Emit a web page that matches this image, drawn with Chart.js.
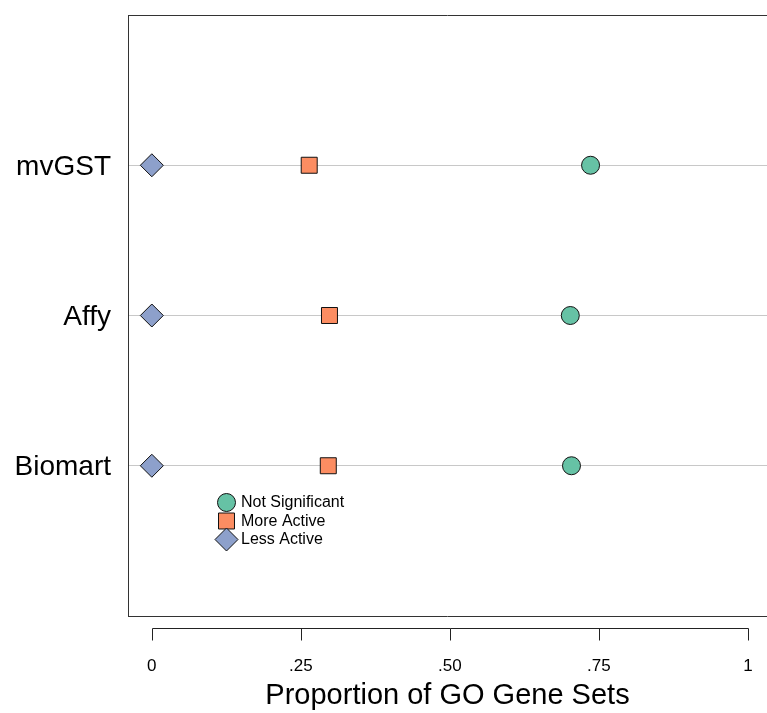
<!DOCTYPE html>
<html><head><meta charset="utf-8">
<script src="https://cdn.jsdelivr.net/npm/chart.js@4/dist/chart.umd.min.js"></script>
<style>html,body{margin:0;padding:0;background:#fff}#wrap{width:767px;height:713px;position:relative}</style>
</head><body><div id="wrap"><canvas id="c" width="767" height="713"></canvas></div>
<script>
const categories = ['mvGST', 'Affy', 'Biomart'];
const seriesNames = ['Not Significant', 'More Active', 'Less Active'];
const notSignificant = [0.736, 0.702, 0.704];
const moreActive = [0.264, 0.298, 0.296];
const lessActive = [0.0, 0.0, 0.0];
const xTickValues = [0, 0.25, 0.5, 0.75, 1];
const xTickLabels = ['0', '.25', '.50', '.75', '1'];

const FONT = "'Liberation Sans', Arial, Helvetica, sans-serif";
Chart.defaults.font.family = FONT;
Chart.defaults.color = '#000';

const toPoints = vals => vals.map((v, i) => ({ x: v, y: i + 1 }));
const styles = [
  { pointStyle: 'circle', radius: 9, color: '#66c2a5' },
  { pointStyle: 'rect', radius: 11.3, color: '#fc8d62' },
  { pointStyle: 'rectRot', radius: 11.5, color: '#8da0cb' }
];
const seriesValues = [notSignificant, moreActive, lessActive];

const datasets = seriesNames.map((name, k) => ({
  label: name,
  data: toPoints(seriesValues[k]),
  pointStyle: styles[k].pointStyle,
  pointRadius: styles[k].radius,
  pointHoverRadius: styles[k].radius,
  backgroundColor: styles[k].color,
  borderColor: '#111',
  borderWidth: 1,
  showLine: false
}));

const noPad = s => { s.paddingTop = 0; s.paddingBottom = 0; s.paddingLeft = 0; s.paddingRight = 0; };

const framePlugin = {
  id: 'frame',
  beforeDatasetsDraw(chart) {
    const { ctx, chartArea: a } = chart;
    ctx.save();
    ctx.strokeStyle = '#333';
    ctx.lineWidth = 1;
    ctx.beginPath();
    ctx.moveTo(a.left, a.top + 0.5); ctx.lineTo(a.right, a.top + 0.5);
    ctx.moveTo(a.left, a.bottom + 0.5); ctx.lineTo(a.right, a.bottom + 0.5);
    ctx.stroke();
    ctx.restore();
  },
  afterDraw(chart) {
    const { ctx, chartArea: a } = chart;
    const xs = chart.scales.x;
    const y0 = Math.round(a.bottom + 12) + 0.5;
    ctx.save();
    ctx.strokeStyle = '#222';
    ctx.lineWidth = 1;
    ctx.beginPath();
    const xa = Math.round(xs.getPixelForValue(xTickValues[0])) + 0.5;
    const xb = Math.round(xs.getPixelForValue(xTickValues[xTickValues.length - 1])) + 0.5;
    ctx.moveTo(xa, y0); ctx.lineTo(xb, y0);
    xTickValues.forEach(v => {
      const px = Math.round(xs.getPixelForValue(v)) + 0.5;
      ctx.moveTo(px, y0); ctx.lineTo(px, y0 + 12);
    });
    ctx.stroke();
    // legend
    const lx = a.left + 98.5;
    const ly = a.top + 487.5;
    const step = 18.5;
    ctx.font = '16px ' + FONT;
    ctx.textBaseline = 'middle';
    ctx.textAlign = 'left';
    datasets.forEach((ds, k) => {
      const y = ly + k * step;
      ctx.fillStyle = ds.backgroundColor;
      ctx.strokeStyle = ds.borderColor;
      ctx.lineWidth = 1;
      Chart.helpers.drawPoint(ctx, { pointStyle: ds.pointStyle, radius: ds.pointRadius, rotation: 0, borderWidth: 1 }, lx, y);
      ctx.fillStyle = '#000';
      ctx.fillText(ds.label, lx + 14.5, y + 0.5);
    });
    ctx.restore();
  }
};

new Chart(document.getElementById('c'), {
  type: 'scatter',
  data: { datasets },
  plugins: [framePlugin],
  options: {
    responsive: false,
    devicePixelRatio: 1,
    animation: false,
    layout: { autoPadding: false, padding: { top: 15, right: 0, left: 0, bottom: 0 } },
    plugins: { legend: { display: false }, tooltip: { enabled: false } },
    scales: {
      x: {
        type: 'linear',
        min: -0.04,
        max: 1.032,
        afterBuildTicks: s => { s.ticks = xTickValues.map(v => ({ value: v })); },
        afterFit: s => { s.height = 97; noPad(s); },
        ticks: {
          callback: (v, i) => xTickLabels[i],
          font: { size: 17 },
          color: '#000',
          padding: 40,
          maxRotation: 0,
          autoSkip: false
        },
        grid: { display: false, drawTicks: false },
        border: { display: false },
        title: {
          display: true,
          text: 'Proportion of GO Gene Sets',
          font: { size: 29 },
          color: '#000',
          padding: { top: 0, bottom: 0 }
        }
      },
      y: {
        type: 'linear',
        reverse: true,
        min: 0,
        max: 4,
        afterBuildTicks: s => { s.ticks = categories.map((c, i) => ({ value: i + 1 })); },
        afterFit: s => { s.width = 128; noPad(s); },
        ticks: {
          callback: v => categories[v - 1],
          font: { size: 28 },
          color: '#000',
          padding: 17,
          labelOffset: 2,
          autoSkip: false
        },
        grid: { color: '#c8c8c8', lineWidth: 1, drawTicks: false },
        border: { display: true, color: '#333', width: 1 }
      }
    }
  }
});
</script>
</body></html>
